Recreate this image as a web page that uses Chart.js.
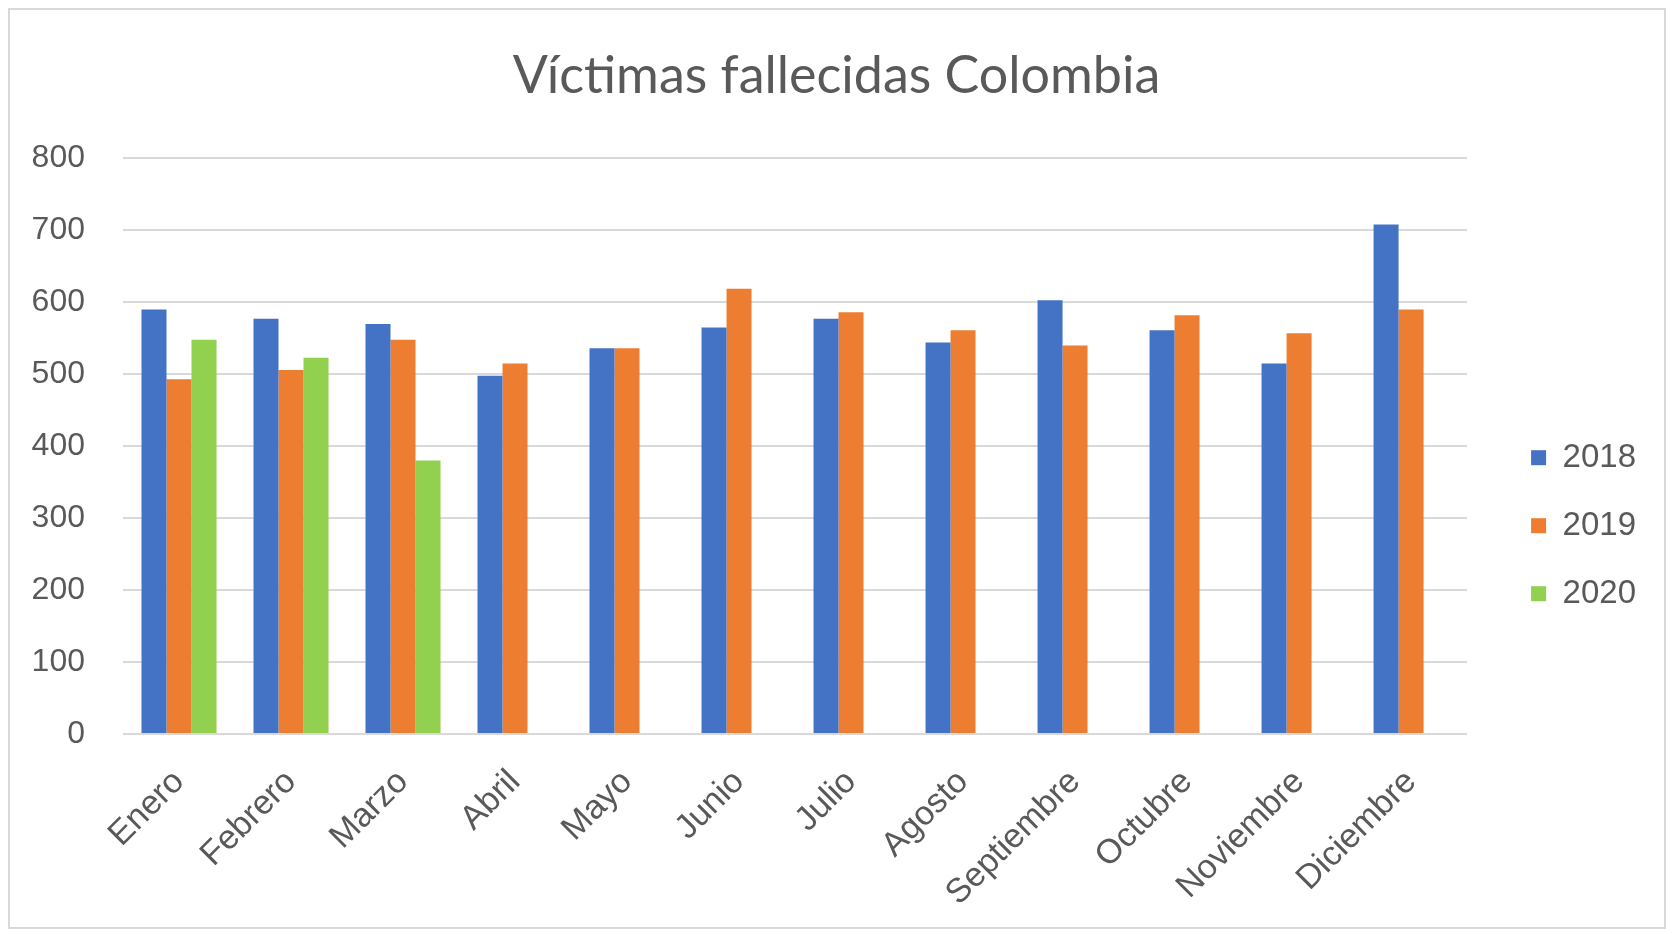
<!doctype html>
<html lang="es">
<head>
    <meta charset="utf-8">
    <title>Víctimas fallecidas Colombia</title>
    <script src="https://cdn.jsdelivr.net/npm/chart.js@4.4.0/dist/chart.umd.min.js"></script>
    <style>
        html, body { margin: 0; padding: 0; background: #fff; }
        #wrap { position: relative; width: 1673px; height: 934px; }
        #marco { position: absolute; left: 8px; top: 8px; width: 1658px; height: 921px;
                 border: 2px solid #d9d9d9; box-sizing: border-box; pointer-events: none; }
    </style>
</head>
<body>
    <div id="wrap">
        <canvas id="chart"></canvas>
        <div id="marco"></div>
    </div>

    <script>
        // meses y valores
        var meses = ['Enero', 'Febrero', 'Marzo', 'Abril', 'Mayo', 'Junio', 'Julio', 'Agosto', 'Septiembre', 'Octubre', 'Noviembre', 'Diciembre'];
        var anios = ['2018', '2019', '2020'];
        var v2018 = [590, 577, 570, 498, 536, 565, 577, 544, 603, 561, 515, 708];
        var v2019 = [493, 506, 548, 515, 536, 619, 586, 561, 540, 582, 557, 590];
        var v2020 = [548, 523, 380, null, null, null, null, null, null, null, null, null];
        var colores = ['#4472C4', '#ED7D31', '#92D050'];
        var ticksY = [0, 100, 200, 300, 400, 500, 600, 700, 800];

        var gris = '#595959';

        new Chart(document.getElementById('chart').getContext('2d'), {
            type: 'bar',
            data: {
                labels: meses,
                datasets: [v2018, v2019, v2020].map(function (d, i) {
                    return {
                        label: anios[i],
                        data: d,
                        backgroundColor: colores[i],
                        borderWidth: 0,
                        categoryPercentage: 0.67,
                        barPercentage: 1.0
                    };
                })
            },
            options: {
                responsive: true,
                maintainAspectRatio: false,
                animation: false,
                layout: { padding: { left: 27, right: 27 } },
                plugins: {
                    title: {
                        display: true,
                        text: 'Víctimas fallecidas Colombia',
                        color: gris,
                        font: { family: 'Lato', size: 52, weight: 'normal', lineHeight: 1.2 },
                        padding: { top: 45, bottom: 51 }
                    },
                    legend: {
                        position: 'right',
                        title: { display: true, text: ' ', font: { size: 12 }, padding: { top: 0, bottom: 103 } },
                        labels: {
                            color: gris,
                            font: { family: 'Liberation Sans', size: 33 },
                            boxWidth: 15,
                            boxHeight: 15,
                            padding: 35
                        }
                    },
                    tooltip: { enabled: false }
                },
                scales: {
                    x: {
                        grid: { display: false },
                        border: { display: false },
                        ticks: {
                            color: gris,
                            font: { family: 'Liberation Sans', size: 34 },
                            minRotation: 45,
                            maxRotation: 45,
                            autoSkip: false,
                            padding: 20
                        },
                        afterFit: function (s) { s.height = 200; }
                    },
                    y: {
                        min: 0,
                        max: 800,
                        border: { display: false },
                        grid: { color: '#d9d9d9', lineWidth: 2, drawTicks: false },
                        ticks: {
                            color: gris,
                            font: { family: 'Liberation Sans', size: 32 },
                            padding: 38,
                            stepSize: 100
                        },
                        afterBuildTicks: function (s) { s.ticks = ticksY.map(function (v) { return { value: v }; }); },
                        afterFit: function (s) { s.width = 96; }
                    },
                    // espacio vacio entre el area del grafico y la leyenda
                    hueco: {
                        type: 'linear',
                        position: 'right',
                        grid: { display: false, drawTicks: false },
                        border: { display: false },
                        ticks: { display: false },
                        afterFit: function (s) { s.width = 29; }
                    }
                }
            }
        });
    </script>
</body>
</html>
